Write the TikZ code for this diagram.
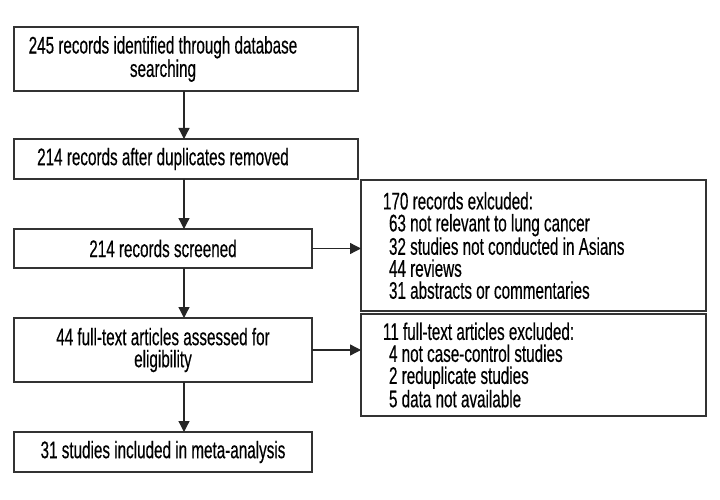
\documentclass[tikz,border=0pt]{standalone}
\usepackage{fontspec}
\setmainfont[FakeStretch=0.635,FakeBold=0.4]{Liberation Sans}
\usetikzlibrary{arrows.meta,calc,positioning}
\tikzstyle{box}=[
  draw=black!80,
  line width=1.3pt,
  inner sep=0pt,
  outer sep=0pt,
  rectangle,
  anchor=north west,
]
\tikzstyle{boxtext}=[
  font={\fontsize{24pt}{22pt}\selectfont},
  align=center,
  inner sep=0pt,
]
\tikzstyle{listbox}=[
  box,
  font={\fontsize{24pt}{22pt}\selectfont},
  align=flush left,
  text width=301pt,
  inner xsep=22pt,
  minimum width=345pt,
]
\tikzstyle{arrow}=[
  draw=black!85,
  line width=1.3pt,
  -{Triangle[width=11pt,length=11pt]},
]
\tikzset{
  x=1pt,
  y=-1pt,
}
\begin{document}
\begin{tikzpicture}
      \useasboundingbox (0,0) rectangle (720,500);
      \coordinate (spine) at (184,0);
      %%
      \node (identified) [box, minimum width=344pt, minimum height=64pt] at (14,27) {};
      \node (identifiedtxt) [boxtext] at (163,59) {245 records identified through database\\searching};
      \node (duplicates) [box, minimum width=344pt, minimum height=40pt] at (14,139) {};
      \node (duplicatestxt) [boxtext] at (163,159) {214 records after duplicates removed};
      \node (screened) [box, boxtext, minimum width=298pt, minimum height=39pt] at (14,229) {214 records screened};
      \node (fulltext) [box, boxtext, minimum width=298pt, minimum height=64pt] at (14,318) {44 full-text articles assessed for\\eligibility};
      \node (included) [box, boxtext, minimum width=298pt, minimum height=40pt] at (14,432) {31 studies included in meta-analysis};
      %%
      \node (excluded) [listbox, minimum height=131pt] at (361,180) {170 records exlcuded:\\
        \hspace*{6pt}63 not relevant to lung cancer\\
        \hspace*{6pt}32 studies not conducted in Asians\\
        \hspace*{6pt}44 reviews\\
        \hspace*{6pt}31 abstracts or commentaries};
      \node (fulltextexcl) [listbox, minimum height=102pt] at (361,314) {11 full-text articles excluded:\\
        \hspace*{6pt}4 not case-control studies\\
        \hspace*{6pt}2 reduplicate studies\\
        \hspace*{6pt}5 data not available};
      %%
      \draw [arrow] (identified.south -| spine) -- (duplicates.north -| spine);
      \draw [arrow] (duplicates.south -| spine) -- (screened.north -| spine);
      \draw [arrow] (screened.south -| spine) -- (fulltext.north -| spine);
      \draw [arrow] (fulltext.south -| spine) -- (included.north -| spine);
      \draw [arrow] (screened.east) -- (screened.east -| excluded.west);
      \draw [arrow] (fulltext.east) -- (fulltext.east -| fulltextexcl.west);
    \end{tikzpicture}
\end{document}
